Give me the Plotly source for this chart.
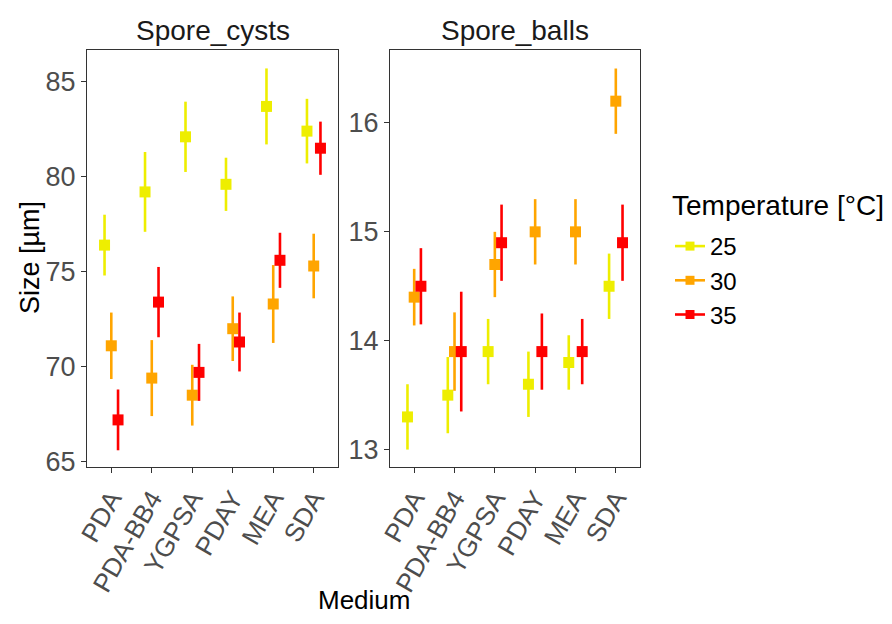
import plotly.graph_objects as go
from plotly.subplots import make_subplots

media = ["PDA", "PDA-BB4", "YGPSA", "PDAY", "MEA", "SDA"]
temps = ["25", "30", "35"]
colors = ["#EEEE00", "#FFA500", "#FF0000"]

# Spore_cysts: means and half-widths of error bars
cysts_25 = [76.4, 79.2, 82.1, 79.6, 83.7, 82.4]
cysts_25_err = [1.6, 2.1, 1.85, 1.4, 2.0, 1.7]
cysts_30 = [71.1, 69.4, 68.5, 72.0, 73.3, 75.3]
cysts_30_err = [1.75, 2.0, 1.6, 1.7, 2.05, 1.7]
cysts_35 = [67.2, 73.4, 69.7, 71.3, 75.6, 81.5]
cysts_35_err = [1.6, 1.85, 1.5, 1.55, 1.45, 1.4]

# Spore_balls
balls_25 = [13.3, 13.5, 13.9, 13.6, 13.8, 14.5]
balls_25_err = [0.3, 0.35, 0.3, 0.3, 0.25, 0.3]
balls_30 = [14.4, 13.9, 14.7, 15.0, 15.0, 16.2]
balls_30_err = [0.26, 0.36, 0.3, 0.3, 0.3, 0.3]
balls_35 = [14.5, 13.9, 14.9, 13.9, 13.9, 14.9]
balls_35_err = [0.35, 0.55, 0.35, 0.35, 0.3, 0.35]

cysts = [(cysts_25, cysts_25_err), (cysts_30, cysts_30_err), (cysts_35, cysts_35_err)]
balls = [(balls_25, balls_25_err), (balls_30, balls_30_err), (balls_35, balls_35_err)]

# page has an 8px body margin: figure occupies 876x608 starting at (8, 8)
OFF = 8
W, H = 892 - 2 * OFF, 624 - 2 * OFF


def fx(x):
    return (x - OFF) / W


def fy(y):
    return 1 - (y - OFF) / H


fig = make_subplots(rows=1, cols=2)

FONT = "Liberation Sans, Arial, sans-serif"
for col, panel in [(1, cysts), (2, balls)]:
    for t, c, (m, e) in zip(temps, colors, panel):
        fig.add_trace(go.Scatter(
            x=media, y=m, mode="markers", name=t,
            offsetgroup=t, alignmentgroup="a",
            marker=dict(symbol="square", size=11, color=c, line=dict(width=0)),
            error_y=dict(type="data", array=e, visible=True, color=c, thickness=2.6, width=0),
            showlegend=False, hoverinfo="skip",
        ), row=1, col=col)

# legend keys
for t, c in zip(temps, colors):
    fig.add_trace(go.Scatter(
        x=[None], y=[None], mode="lines+markers", name=t,
        marker=dict(symbol="square", size=9, color=c),
        line=dict(color=c, width=2.6), showlegend=True,
    ), row=1, col=1)

axis_common = dict(
    showline=True, mirror=True, linecolor="#333333", linewidth=1.3,
    ticks="outside", ticklen=5, tickwidth=1.3, tickcolor="#333333",
    showgrid=False, zeroline=False, automargin=False,
    tickfont=dict(family=FONT, size=26, color="#4D4D4D"),
)

fig.update_xaxes(**axis_common, type="category", categoryorder="array",
                 categoryarray=media, range=[-0.6, 5.6], tickangle=-60)
fig.update_yaxes(**axis_common, tickfont_size=27)

fig.update_layout(
    xaxis=dict(domain=[fx(87), fx(338)]),
    xaxis2=dict(domain=[fx(390), fx(640)]),
    yaxis=dict(domain=[fy(467), fy(50)], range=[64.72, 86.67],
               tickvals=[65, 70, 75, 80, 85]),
    yaxis2=dict(domain=[fy(467), fy(50)], range=[12.84, 16.67],
                tickvals=[13, 14, 15, 16]),
    scattermode="group", scattergap=0.5,
    width=W, height=H,
    margin=dict(l=0, r=0, t=0, b=0),
    paper_bgcolor="white", plot_bgcolor="white",
    font=dict(family=FONT, color="black"),
    showlegend=True,
    legend=dict(
        x=fx(670), y=fy(224), xanchor="left", yanchor="top",
        font=dict(size=24, family=FONT, color="black"),
        itemwidth=30, bgcolor="rgba(0,0,0,0)",
    ),
    annotations=[
        dict(text="Spore_cysts", x=fx((87 + 338) / 2), y=fy(30), xref="paper", yref="paper",
             showarrow=False, xanchor="center", yanchor="middle",
             font=dict(size=28, family=FONT, color="#1A1A1A")),
        dict(text="Spore_balls", x=fx((390 + 640) / 2), y=fy(30), xref="paper", yref="paper",
             showarrow=False, xanchor="center", yanchor="middle",
             font=dict(size=28, family=FONT, color="#1A1A1A")),
        dict(text="Size [µm]", x=fx(30), y=fy(258), xref="paper", yref="paper",
             showarrow=False, xanchor="center", yanchor="middle", textangle=-90,
             font=dict(size=27, family=FONT, color="black")),
        dict(text="Medium", x=fx(364), y=fy(600), xref="paper", yref="paper",
             showarrow=False, xanchor="center", yanchor="middle",
             font=dict(size=26, family=FONT, color="black")),
        dict(text="Temperature [°C]", x=fx(670), y=fy(205), xref="paper", yref="paper",
             showarrow=False, xanchor="left", yanchor="middle",
             font=dict(size=28, family=FONT, color="black")),
    ],
)

fig.write_html("out.html")
